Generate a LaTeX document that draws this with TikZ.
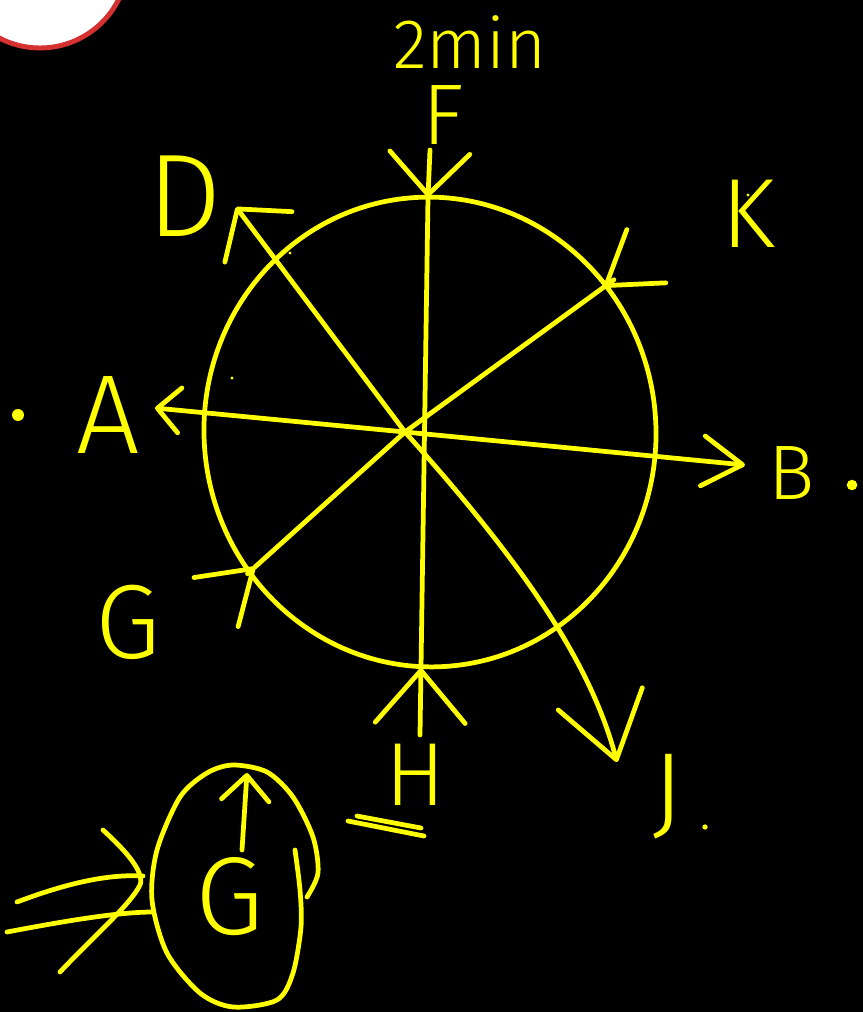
\documentclass[tikz,border=0pt]{standalone}
\usepackage{fontspec}
\usepackage{xcolor}
\usepackage{tikz}
\usetikzlibrary{arrows.meta,calc}
\newfontfamily\handfont{Fira Sans Light}
\definecolor{pen}{HTML}{FFFF00}
\definecolor{board}{HTML}{000000}
\definecolor{badgeRim}{HTML}{D63131}

\begin{document}
\begin{tikzpicture}[
  x=0.02cm, y=-0.02cm,
  line cap=round, line join=round,
  lbl/.style={text=pen, inner sep=0pt, font=\handfont\fontsize{#1}{#1}\selectfont},
  lbl/.default=56,
  stroke/.style={draw=pen, line width=2.7pt},
  arr/.style 2 args={stroke, -{Straight Barb[length=#1, width=#2, round]}}
]
  % board
  \useasboundingbox (0,0) rectangle (863,1012);
  \fill[board] (0,0) rectangle (863,1012);
  \clip (0,0) rectangle (863,1012);
  \filldraw[fill=white, draw=badgeRim, line width=2.8pt] (40,-40) circle [radius=1.76cm];

  % title
  \node[lbl=40] (title) at (470,42) {2min};

  % big circle
  \coordinate (c0) at (430,432);
  \draw[stroke, rotate around={5:(c0)}] (c0) ellipse [x radius=4.52cm, y radius=4.7cm];

  % points where the strokes cross and end
  \coordinate (ctr) at (405,432);
  \coordinate (aTip) at (155,408);
  \coordinate (bTip) at (745,465);
  \coordinate (fTop) at (430,150);
  \coordinate (fIn)  at (428,197);
  \coordinate (hIn)  at (421,668);
  \coordinate (hBot) at (420,735);
  \coordinate (dTip) at (236,207);
  \coordinate (jTip) at (617,762);
  \coordinate (gTip) at (255,567);
  \coordinate (kTip) at (604,287);

  % A <-> B
  \draw[arr={0.45cm}{0.9cm}] (ctr) -- (aTip);
  \draw[arr={0.8cm}{1.0cm}] (ctr) -- (bTip);

  % F and H both point in
  \draw[arr={0.84cm}{1.6cm}] (fTop) -- (fIn);
  \draw[stroke] (fIn) -- (hIn);
  \draw[arr={1.05cm}{1.8cm}] (hBot) -- (hIn);

  % D and J point out
  \draw[arr={0.7cm}{1.68cm}] (ctr) -- (dTip);
  \draw[arr={1.26cm}{1.74cm}] (ctr) .. controls (520,560) and (590,660) .. (jTip);

  % G and K point in
  \draw[stroke] (gTip) -- (ctr) -- (kTip);
  \draw[arr={1.0cm}{1.32cm}] ($(gTip)!-0.05!(ctr)$) -- (gTip);
  \draw[arr={1.0cm}{1.32cm}] ($(kTip)!-0.05!(ctr)$) -- (kTip);

  % letters
  \node[lbl=49] (labF) at (443,115) {F};
  \node[lbl=67] (labD) at (185,196) {D};
  \node[lbl=56] (labK) at (748,214) {K};
  \node[lbl=64] (labA) at (108,415) {A};
  \node[lbl=44] (labB) at (792,473) {B};
  \node[lbl=60] (labG) at (128,622) {G};
  \node[lbl=51] (labH) at (416,775) {H};
  \node[lbl=60] (labJ) at (668,797) {J};
  \draw[stroke] (348,821) -- (424,836);
  \draw[stroke] (357,816) -- (421,828);

  % dots
  \fill[pen] (18,415) circle [radius=3.4pt];
  \fill[pen] (852,485) circle [radius=3pt];
  \fill[pen] (705,827) circle [radius=1.5pt];
  \fill[pen] (290,253) circle [radius=0.9pt];
  \fill[pen] (232,378) circle [radius=0.9pt];
  \fill[pen] (748,195) circle [radius=0.9pt];

  % the G in its loop
  \draw[stroke] plot[smooth] coordinates {(295,850) (300,890) (301,927) (293,973)
    (277,1000) (233,1007) (200,993) (167,953) (152,900) (157,850) (180,797)
    (207,773) (233,765) (267,772) (293,797) (313,837) (318,873) (307,897)};
  \node[lbl=63] (labG2) at (230,897) {G};
  \coordinate (eTail) at (242,850);
  \coordinate (eTip) at (247,773);
  \draw[arr={0.5cm}{0.95cm}] (eTail) -- (eTip);

  % strokes coming in from the left
  \draw[stroke] (17,902) .. controls (70,882) and (110,874) .. (143,876);
  \draw[stroke] (7,932) .. controls (70,920) and (120,912) .. (153,912);
  \draw[stroke] (103,830) .. controls (125,850) and (145,872) .. (140,885)
    .. controls (130,905) and (95,935) .. (60,972);
\end{tikzpicture}
\end{document}
